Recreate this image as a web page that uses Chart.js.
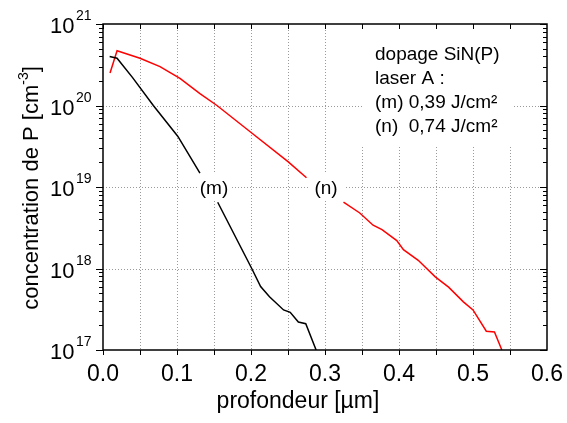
<!DOCTYPE html>
<html>
<head>
<meta charset="utf-8">
<script src="https://cdn.jsdelivr.net/npm/chart.js@4"></script>
<style>
  html, body { margin: 0; padding: 0; background: #fff; }
  #wrap { width: 567px; height: 423px; position: relative; }
</style>
</head>
<body>
<div id="wrap"><canvas id="myChart"></canvas></div>
<script>
// profile (m) 0,39 J/cm2 - null = gap where the label sits
const mDepth = [0.009, 0.019, 0.040, 0.068, 0.101, 0.131, 0.143, 0.155, 0.201, 0.213, 0.225, 0.244, 0.253, 0.264, 0.274, 0.288];
const mConc  = [4.0e20, 3.8e20, 2.2e20, 1.0e20, 4.2e19, 1.48e19, null, 6.5e18, 1.0e18, 6.0e17, 4.5e17, 3.1e17, 2.9e17, 2.2e17, 2.1e17, 1.0e17];

// profile (n) 0,74 J/cm2
const nDepth = [0.0095, 0.019, 0.050, 0.077, 0.104, 0.131, 0.154, 0.201, 0.250, 0.275, 0.300, 0.325, 0.347, 0.365, 0.377, 0.397, 0.406, 0.426, 0.449, 0.467, 0.487, 0.500, 0.518, 0.529, 0.539];
const nConc  = [2.5e20, 4.7e20, 3.8e20, 3.0e20, 2.15e20, 1.4e20, 1.0e20, 4.6e19, 2.05e19, 1.3e19, null, 6.5e18, 4.8e18, 3.4e18, 3.0e18, 2.2e18, 1.7e18, 1.26e18, 7.9e17, 5.9e17, 3.9e17, 3.1e17, 1.7e17, 1.66e17, 1.0e17];

const xTicks = [0.0, 0.1, 0.2, 0.3, 0.4, 0.5, 0.6];
const xGrid = [0.05, 0.1, 0.15, 0.2, 0.25, 0.3, 0.35, 0.4, 0.45, 0.5, 0.55];
const yExp = [17, 18, 19, 20, 21];

const legendLines = ['dopage SiN(P)', 'laser A :', '(m) 0,39 J/cm\u00b2', '(n)  0,74 J/cm\u00b2'];

const FONT = '"Liberation Sans", Arial, sans-serif';

function pts(xs, ys) {
    return xs.map((x, i) => ({ x: x, y: ys[i] }));
}

// grid, frame, ticks and all the text drawn by hand
const decor = {
    id: 'decor',
    beforeDatasetsDraw(chart) {
        const { ctx, chartArea: a, scales: { x, y } } = chart;
        ctx.save();
        ctx.strokeStyle = '#9a9a9a';
        ctx.lineWidth = 1;
        ctx.setLineDash([1, 2]);
        xGrid.forEach(v => {
            const px = Math.round(x.getPixelForValue(v)) + 0.5;
            ctx.beginPath(); ctx.moveTo(px, a.top); ctx.lineTo(px, a.bottom); ctx.stroke();
        });
        yExp.slice(1, -1).forEach(e => {
            const py = Math.round(y.getPixelForValue(Math.pow(10, e))) + 0.5;
            ctx.beginPath(); ctx.moveTo(a.left, py); ctx.lineTo(a.right, py); ctx.stroke();
        });
        ctx.setLineDash([]);
        // white boxes behind the text
        ctx.fillStyle = '#fff';
        ctx.fillRect(362, a.top + 1, 152, 120);
        ctx.fillRect(197, 174, 35, 27);
        ctx.fillRect(309, 174, 36, 27);
        ctx.restore();
    },
    afterDraw(chart) {
        const { ctx, chartArea: a, scales: { x, y } } = chart;
        ctx.save();
        ctx.strokeStyle = '#000';
        ctx.fillStyle = '#000';
        ctx.lineWidth = 1.5;
        ctx.strokeRect(a.left, a.top, a.right - a.left, a.bottom - a.top);

        ctx.lineWidth = 1;
        // x ticks: bottom outward, top inward
        xGrid.concat([0]).forEach(v => {
            const px = Math.round(x.getPixelForValue(v)) + 0.5;
            ctx.beginPath();
            ctx.moveTo(px, a.bottom); ctx.lineTo(px, a.bottom + 5);
            ctx.moveTo(px, a.top); ctx.lineTo(px, a.top + 5);
            ctx.stroke();
        });
        // y ticks, log minor ticks
        for (let e = 17; e <= 21; e++) {
            for (let k = 1; k <= 9; k++) {
                const v = k * Math.pow(10, e);
                if (v > 1e21) break;
                const py = Math.round(y.getPixelForValue(v)) + 0.5;
                const len = k === 1 ? 7 : 4;
                ctx.beginPath();
                ctx.moveTo(a.left - len, py); ctx.lineTo(a.left, py);
                ctx.moveTo(a.right - len, py); ctx.lineTo(a.right, py);
                ctx.stroke();
            }
        }

        // x tick labels
        ctx.font = '23px ' + FONT;
        ctx.textAlign = 'center';
        ctx.textBaseline = 'alphabetic';
        xTicks.forEach(v => {
            ctx.fillText(v.toFixed(1), x.getPixelForValue(v), a.bottom + 31);
        });

        // y tick labels 10^n
        yExp.forEach(e => {
            const py = y.getPixelForValue(Math.pow(10, e));
            ctx.font = '22px ' + FONT;
            ctx.textAlign = 'left';
            ctx.fillText('10', 50, py + 9);
            ctx.font = '14px ' + FONT;
            ctx.fillText(String(e), 76, py - 4);
        });

        // x title
        ctx.font = '23px ' + FONT;
        ctx.textAlign = 'center';
        ctx.fillText('profondeur [\u00b5m]', 298, 408);

        // y title with superscript
        ctx.save();
        ctx.translate(38, 188);
        ctx.rotate(-Math.PI / 2);
        const t1 = 'concentration de P [cm';
        ctx.font = '14px ' + FONT;
        const wSup = ctx.measureText('-3').width;
        ctx.font = '22px ' + FONT;
        const w1 = ctx.measureText(t1).width;
        const w2 = ctx.measureText(']').width;
        let sx = -(w1 + wSup + w2) / 2;
        ctx.textAlign = 'left';
        ctx.fillText(t1, sx, 0);
        ctx.font = '14px ' + FONT;
        ctx.fillText('-3', sx + w1, -10);
        ctx.font = '22px ' + FONT;
        ctx.fillText(']', sx + w1 + wSup, 0);
        ctx.restore();

        // legend text
        ctx.font = '19px ' + FONT;
        ctx.textAlign = 'left';
        legendLines.forEach((s, i) => ctx.fillText(s, 375, 60 + i * 24));

        // curve labels
        ctx.textAlign = 'center';
        ctx.fillText('(m)', 214, 194);
        ctx.fillText('(n)', 326, 194);
        ctx.restore();
    }
};

const ctx = document.getElementById('myChart');

new Chart(ctx, {
    type: 'line',
    data: {
        datasets: [{
            label: '(m)',
            data: pts(mDepth, mConc),
            borderColor: '#000000',
            borderWidth: 1.5,
            pointRadius: 0,
            tension: 0
        }, {
            label: '(n)',
            data: pts(nDepth, nConc),
            borderColor: '#ff0000',
            borderWidth: 1.5,
            pointRadius: 0,
            tension: 0
        }]
    },
    options: {
        responsive: true,
        maintainAspectRatio: false,
        animation: false,
        layout: {
            padding: { left: 103, right: 20, top: 24, bottom: 73 }
        },
        scales: {
            x: {
                type: 'linear',
                min: 0,
                max: 0.6,
                display: false
            },
            y: {
                type: 'logarithmic',
                min: 1e17,
                max: 1e21,
                display: false
            }
        },
        plugins: {
            legend: { display: false },
            tooltip: { enabled: false }
        }
    },
    plugins: [decor]
});
</script>
</body>
</html>
